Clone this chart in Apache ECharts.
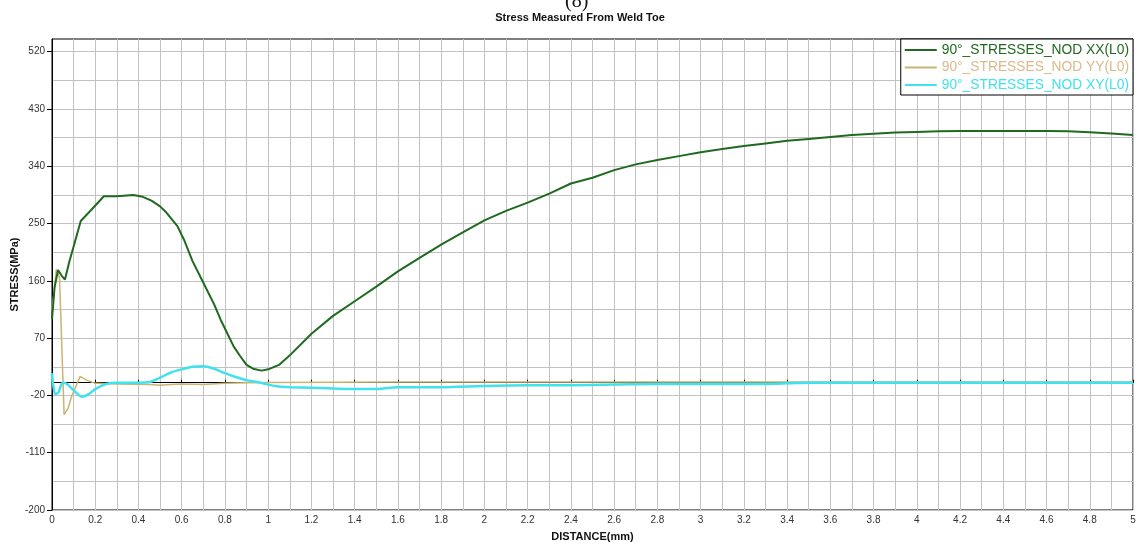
<!DOCTYPE html>
<html>
<head>
<meta charset="utf-8">
<script src="https://cdn.jsdelivr.net/npm/echarts@6/dist/echarts.min.js"></script>
<style>
html,body{margin:0;padding:0;background:#fff;}
#chart{width:1144px;height:546px;}
</style>
</head>
<body>
<div id="chart"></div>
<script>
// ---- data ----
var seriesNames = ['90°_STRESSES_NOD XX(L0)', '90°_STRESSES_NOD YY(L0)', '90°_STRESSES_NOD XY(L0)'];

var xxDist = [0, 0.012, 0.028, 0.045, 0.06, 0.08, 0.1, 0.133, 0.18, 0.24, 0.3, 0.376, 0.42, 0.46, 0.5, 0.53, 0.58, 0.61, 0.65, 0.7, 0.75, 0.78, 0.81, 0.84, 0.87, 0.9, 0.93, 0.97, 1.0, 1.05, 1.1, 1.2, 1.3, 1.4, 1.5, 1.6, 1.7, 1.8, 1.9, 2.0, 2.1, 2.2, 2.3, 2.4, 2.5, 2.6, 2.7, 2.8, 2.9, 3.0, 3.1, 3.2, 3.3, 3.4, 3.5, 3.6, 3.7, 3.8, 3.9, 4.0, 4.1, 4.2, 4.3, 4.4, 4.5, 4.6, 4.7, 4.8, 4.9, 5.0];
var xxStress = [100, 150, 177, 168, 162, 190, 214, 254, 271, 293, 293, 295, 292, 286, 277, 267, 246, 225, 191, 157, 123, 99, 78, 57, 42, 28, 22, 19, 21, 28, 43, 77, 105, 128, 151, 175, 196, 217, 236, 255, 270, 283, 297, 313, 322, 334, 343, 350, 356, 362, 367, 372, 376, 380, 383, 386, 389, 391, 393, 394, 395, 395.5, 395.6, 395.6, 395.6, 395.6, 395, 393.5, 391.5, 389];

var yyDist = [0, 0.012, 0.02, 0.035, 0.045, 0.056, 0.075, 0.09, 0.13, 0.16, 0.2, 0.3, 0.45, 0.5, 0.55, 0.6, 0.7, 0.8, 0.9, 1.0, 1.6, 2.5, 3.5, 5.0];
var yyStress = [115, 150, 178, 165, 60, -50, -40, -22, 10, 4, -1, -2, -3, -4, -3, -2, -3, -1, 0, 0.5, 1, 1, 1, 1];

var xyDist = [0, 0.015, 0.03, 0.05, 0.07, 0.1, 0.14, 0.17, 0.2, 0.25, 0.3, 0.4, 0.45, 0.5, 0.55, 0.6, 0.65, 0.7, 0.75, 0.8, 0.85, 0.9, 0.95, 1.0, 1.05, 1.1, 1.2, 1.3, 1.4, 1.5, 1.6, 1.8, 2.0, 2.2, 2.4, 2.6, 2.8, 3.0, 3.2, 3.4, 3.5, 4.0, 5.0];
var xyStress = [15, -18, -15, 0, -2, -12, -22, -18, -10, -2, 0, 0, 1, 8, 16, 21, 25, 26, 22, 15, 9, 4, 1, -3, -6, -7, -8, -9, -10, -10, -7, -7, -5, -4, -4, -3, -2, -2, -2, -1, 0, 0, 0];

var yLabelTicks = [-200, -110, -20, 70, 160, 250, 340, 430, 520];
var yGridTicks = [-200, -155, -110, -65, -20, 25, 70, 115, 160, 205, 250, 295, 340, 385, 430, 475, 520];

function zip(a, b) { return a.map(function (v, i) { return [v, b[i]]; }); }

var colXX = '#1f6a1f', colYY = '#c9b472', colXY = '#3fe2ee';
var font = 'Liberation Sans, Arial, sans-serif';

var chart = echarts.init(document.getElementById('chart'));
chart.setOption({
  animation: false,
  backgroundColor: '#fff',
  textStyle: { fontFamily: font },
  graphic: [
    { type: 'text', left: 565, top: -8, style: { text: '(8)', font: '20px "Liberation Serif", serif', fill: '#111' } },
    { type: 'text', x: 580, y: 12, style: { text: 'Stress Measured From Weld Toe', font: 'bold 11px ' + font, fill: '#111', align: 'center' } }
  ],
  grid: { left: 52, right: 11, top: 39, bottom: 36, show: true, borderColor: '#000', borderWidth: 1, backgroundColor: '#fff', containLabel: false, outerBoundsMode: 'none' },
  legend: {
    top: 39, right: 11, orient: 'vertical',
    backgroundColor: '#fff', borderColor: '#000', borderWidth: 1,
    padding: [4, 4, 3, 4], itemGap: 3.5, itemWidth: 32, itemHeight: 2, icon: 'rect',
    textStyle: { fontFamily: font, fontSize: 13.8 },
    data: [
      { name: seriesNames[0], textStyle: { color: colXX } },
      { name: seriesNames[1], textStyle: { color: '#d8bb8a' } },
      { name: seriesNames[2], textStyle: { color: colXY } }
    ]
  },
  xAxis: {
    type: 'value', min: 0, max: 5, interval: 0.2,
    name: 'DISTANCE(mm)', nameLocation: 'middle', nameGap: 21, nameMoveOverlap: false,
    nameTextStyle: { fontWeight: 'bold', fontSize: 11, color: '#111', fontFamily: font },
    axisLine: { show: true, lineStyle: { color: '#000', width: 1 } },
    axisTick: { show: true, inside: true, length: 3, lineStyle: { color: '#000' } },
    axisLabel: { fontSize: 10, color: '#333', margin: 5, fontFamily: font },
    splitLine: { show: true, lineStyle: { color: '#c2c2c2', width: 1 } },
    minorTick: { show: false, splitNumber: 2 },
    minorSplitLine: { show: true, lineStyle: { color: '#c2c2c2', width: 1 } }
  },
  yAxis: [
    {
      type: 'value', min: -200, max: 540,
      axisLine: { show: true, lineStyle: { color: '#000', width: 1 } },
      axisTick: { show: false, customValues: yGridTicks },
      axisLabel: { show: false },
      splitLine: { show: true, lineStyle: { color: '#c2c2c2', width: 1 } }
    },
    {
      type: 'value', min: -200, max: 540, position: 'left',
      name: 'STRESS(MPa)', nameLocation: 'middle', nameGap: 32, nameRotate: 90, nameMoveOverlap: false,
      nameTextStyle: { fontWeight: 'bold', fontSize: 11, color: '#111', fontFamily: font },
      axisLine: { show: false },
      axisTick: { show: true, length: 5, customValues: yLabelTicks, lineStyle: { color: '#000' } },
      axisLabel: { fontSize: 10, color: '#333', margin: 7, customValues: yLabelTicks, fontFamily: font },
      splitLine: { show: false }
    }
  ],
  series: [
    { name: seriesNames[1], type: 'line', yAxisIndex: 0, data: zip(yyDist, yyStress), showSymbol: false, lineStyle: { color: colYY, width: 1.5 }, itemStyle: { color: colYY }, z: 2 },
    { name: seriesNames[2], type: 'line', yAxisIndex: 0, data: zip(xyDist, xyStress), showSymbol: false, smooth: 0.3, lineStyle: { color: colXY, width: 2.5 }, itemStyle: { color: colXY }, z: 3 },
    { name: seriesNames[0], type: 'line', yAxisIndex: 0, data: zip(xxDist, xxStress), showSymbol: false, lineStyle: { color: colXX, width: 2 }, itemStyle: { color: colXX }, z: 4 }
  ]
});
</script>
</body>
</html>
